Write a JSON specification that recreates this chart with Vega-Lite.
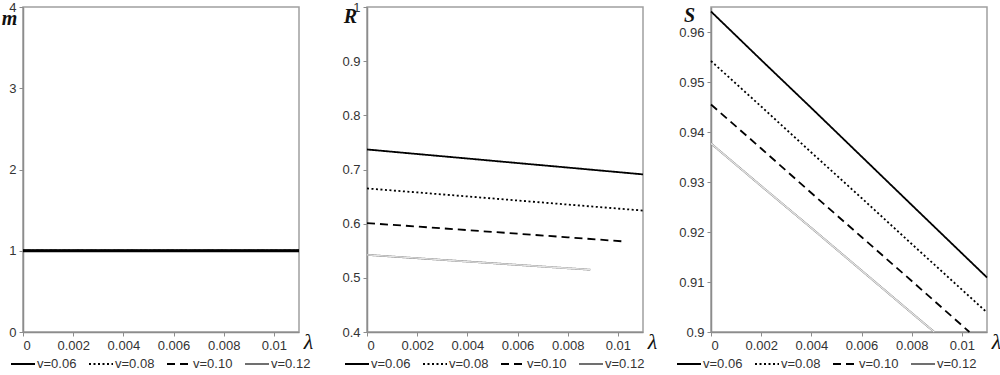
{
  "$schema": "https://vega.github.io/schema/vega-lite/v6.json",
  "padding": 0,
  "background": "white",
  "config": {
    "view": {"stroke": "#a0a0a0", "strokeWidth": 1.5},
    "axis": {
      "grid": false,
      "domainColor": "#8c8c8c",
      "domainWidth": 1.5,
      "tickColor": "#8c8c8c",
      "tickSize": 4,
      "labelFont": "Liberation Sans",
      "labelFontSize": 13,
      "labelColor": "#333",
      "labelPadding": 3
    },
    "legend": {
      "orient": "none",
      "direction": "horizontal",
      "symbolType": "stroke",
      "symbolSize": 576,
      "labelFont": "Liberation Sans",
      "labelFontSize": 13,
      "labelColor": "#333",
      "labelOffset": 1,
      "columnPadding": 8,
      "title": null
    }
  },
  "datasets": {
    "M": [
      {"lam": 0, "val": 1, "v": "v=0.06"}, {"lam": 0.011, "val": 1, "v": "v=0.06"},
      {"lam": 0, "val": 1, "v": "v=0.08"}, {"lam": 0.011, "val": 1, "v": "v=0.08"},
      {"lam": 0, "val": 1, "v": "v=0.10"}, {"lam": 0.011, "val": 1, "v": "v=0.10"},
      {"lam": 0, "val": 1, "v": "v=0.12"}, {"lam": 0.011, "val": 1, "v": "v=0.12"}
    ],
    "R": [
      {"lam": 0, "val": 0.737, "v": "v=0.06"}, {"lam": 0.002, "val": 0.7286, "v": "v=0.06"}, {"lam": 0.004, "val": 0.7203, "v": "v=0.06"}, {"lam": 0.006, "val": 0.7119, "v": "v=0.06"}, {"lam": 0.008, "val": 0.7036, "v": "v=0.06"}, {"lam": 0.011, "val": 0.691, "v": "v=0.06"},
      {"lam": 0, "val": 0.665, "v": "v=0.08"}, {"lam": 0.002, "val": 0.6577, "v": "v=0.08"}, {"lam": 0.004, "val": 0.6503, "v": "v=0.08"}, {"lam": 0.006, "val": 0.6428, "v": "v=0.08"}, {"lam": 0.008, "val": 0.6353, "v": "v=0.08"}, {"lam": 0.011, "val": 0.6242, "v": "v=0.08"},
      {"lam": 0, "val": 0.601, "v": "v=0.10"}, {"lam": 0.002, "val": 0.5947, "v": "v=0.10"}, {"lam": 0.004, "val": 0.5881, "v": "v=0.10"}, {"lam": 0.006, "val": 0.5815, "v": "v=0.10"}, {"lam": 0.008, "val": 0.5748, "v": "v=0.10"}, {"lam": 0.0103, "val": 0.567, "v": "v=0.10"},
      {"lam": 0, "val": 0.5424, "v": "v=0.12"}, {"lam": 0.002, "val": 0.5362, "v": "v=0.12"}, {"lam": 0.004, "val": 0.5301, "v": "v=0.12"}, {"lam": 0.006, "val": 0.5239, "v": "v=0.12"}, {"lam": 0.008, "val": 0.5177, "v": "v=0.12"}, {"lam": 0.0089, "val": 0.515, "v": "v=0.12"}
    ],
    "S": [
      {"lam": 0, "val": 0.9641, "v": "v=0.06"}, {"lam": 0.002, "val": 0.9544, "v": "v=0.06"}, {"lam": 0.004, "val": 0.9448, "v": "v=0.06"}, {"lam": 0.006, "val": 0.9351, "v": "v=0.06"}, {"lam": 0.008, "val": 0.9254, "v": "v=0.06"}, {"lam": 0.011, "val": 0.9109, "v": "v=0.06"},
      {"lam": 0, "val": 0.9542, "v": "v=0.08"}, {"lam": 0.002, "val": 0.9451, "v": "v=0.08"}, {"lam": 0.004, "val": 0.9359, "v": "v=0.08"}, {"lam": 0.006, "val": 0.9268, "v": "v=0.08"}, {"lam": 0.008, "val": 0.9176, "v": "v=0.08"}, {"lam": 0.011, "val": 0.9039, "v": "v=0.08"},
      {"lam": 0, "val": 0.9455, "v": "v=0.10"}, {"lam": 0.002, "val": 0.9367, "v": "v=0.10"}, {"lam": 0.004, "val": 0.9278, "v": "v=0.10"}, {"lam": 0.006, "val": 0.919, "v": "v=0.10"}, {"lam": 0.008, "val": 0.9102, "v": "v=0.10"}, {"lam": 0.0103, "val": 0.9, "v": "v=0.10"},
      {"lam": 0, "val": 0.9377, "v": "v=0.12"}, {"lam": 0.002, "val": 0.9292, "v": "v=0.12"}, {"lam": 0.004, "val": 0.9208, "v": "v=0.12"}, {"lam": 0.006, "val": 0.9123, "v": "v=0.12"}, {"lam": 0.008, "val": 0.9038, "v": "v=0.12"}, {"lam": 0.0089, "val": 0.9, "v": "v=0.12"}
    ]
  },
  "spacing": 68,
  "bounds": "flush",
  "resolve": {
    "scale": {"y": "independent", "color": "independent", "strokeDash": "independent", "strokeWidth": "independent"},
    "legend": {"color": "independent", "strokeDash": "independent", "strokeWidth": "independent"}
  },
  "hconcat": [
    {
      "width": 276,
      "height": 325,
      "layer": [
        {
          "data": {"name": "M"},
          "mark": {"type": "line"},
          "encoding": {
            "x": {"field": "lam", "type": "quantitative", "scale": {"domain": [0, 0.011], "nice": false, "zero": false},
              "axis": {"values": [0, 0.002, 0.004, 0.006, 0.008, 0.01], "format": "~g", "title": "λ", "titleAngle": 0, "titleX": 285, "titleY": 9, "titleAlign": "center", "titleBaseline": "middle", "titleFont": "Liberation Serif", "titleFontStyle": "italic", "titleFontWeight": "normal", "titleFontSize": 22, "titleColor": "#111"}},
            "y": {"field": "val", "type": "quantitative", "scale": {"domain": [0, 4], "nice": false, "zero": false},
              "axis": {"values": [0, 1, 2, 3, 4], "format": "~g", "title": "m", "titleAngle": 0, "titleX": -14, "titleY": 17, "titleAlign": "center", "titleBaseline": "alphabetic", "titleFont": "Liberation Serif", "titleFontStyle": "italic", "titleFontWeight": "bold", "titleFontSize": 20, "titleColor": "#111"}},
            "color": {"field": "v", "type": "nominal", "scale": {"domain": ["v=0.06", "v=0.08", "v=0.10", "v=0.12"], "range": ["#000000", "#000000", "#000000", "#707070"]},
              "legend": {"legendX": -13, "legendY": 344}},
            "strokeDash": {"field": "v", "type": "nominal", "scale": {"domain": ["v=0.06", "v=0.08", "v=0.10", "v=0.12"], "range": [[1, 0], [2, 2.5], [8, 5], [1, 0]]},
              "legend": {"legendX": -13, "legendY": 344}},
            "strokeWidth": {"field": "v", "type": "nominal", "scale": {"domain": ["v=0.06", "v=0.08", "v=0.10", "v=0.12"], "range": [1.8, 1.8, 1.8, 4]},
              "legend": {"legendX": -13, "legendY": 344}}
          }
        },
        {
          "data": {"name": "M"},
          "transform": [{"filter": "datum.v === 'v=0.06'"}],
          "mark": {"type": "line", "stroke": "#000000", "strokeWidth": 3},
          "encoding": {
            "x": {"field": "lam", "type": "quantitative"},
            "y": {"field": "val", "type": "quantitative"}
          }
        },
        {
          "mark": {"type": "text", "text": "η", "align": "right", "baseline": "middle", "font": "Liberation Serif", "fontStyle": "italic", "fontSize": 14, "color": "#111"},
          "encoding": {"x": {"datum": 0.0043, "type": "quantitative"}, "y": {"datum": 3.9, "type": "quantitative"}}
        },
        {
          "mark": {"type": "text", "text": "=0.2", "align": "left", "baseline": "middle", "font": "Liberation Serif", "fontSize": 14, "color": "#111"},
          "encoding": {"x": {"datum": 0.0043, "type": "quantitative"}, "y": {"datum": 3.9, "type": "quantitative"}}
        }
      ]
    },
    {
      "width": 276,
      "height": 325,
      "layer": [
        {
          "data": {"name": "R"},
          "mark": {"type": "line"},
          "encoding": {
            "x": {"field": "lam", "type": "quantitative", "scale": {"domain": [0, 0.011], "nice": false, "zero": false},
              "axis": {"values": [0, 0.002, 0.004, 0.006, 0.008, 0.01], "format": "~g", "title": "λ", "titleAngle": 0, "titleX": 285, "titleY": 9, "titleAlign": "center", "titleBaseline": "middle", "titleFont": "Liberation Serif", "titleFontStyle": "italic", "titleFontWeight": "normal", "titleFontSize": 22, "titleColor": "#111"}},
            "y": {"field": "val", "type": "quantitative", "scale": {"domain": [0.4, 1], "nice": false, "zero": false},
              "axis": {"values": [0.4, 0.5, 0.6, 0.7, 0.8, 0.9, 1], "format": "~g", "title": "R", "titleAngle": 0, "titleX": -17, "titleY": 15, "titleAlign": "center", "titleBaseline": "alphabetic", "titleFont": "Liberation Serif", "titleFontStyle": "italic", "titleFontWeight": "bold", "titleFontSize": 20, "titleColor": "#111"}},
            "color": {"field": "v", "type": "nominal", "scale": {"domain": ["v=0.06", "v=0.08", "v=0.10", "v=0.12"], "range": ["#000000", "#000000", "#000000", "#707070"]},
              "legend": {"legendX": -23, "legendY": 344}},
            "strokeDash": {"field": "v", "type": "nominal", "scale": {"domain": ["v=0.06", "v=0.08", "v=0.10", "v=0.12"], "range": [[1, 0], [2, 2.5], [8, 5], [1, 0]]},
              "legend": {"legendX": -23, "legendY": 344}},
            "strokeWidth": {"field": "v", "type": "nominal", "scale": {"domain": ["v=0.06", "v=0.08", "v=0.10", "v=0.12"], "range": [1.8, 1.8, 1.8, 4]},
              "legend": {"legendX": -23, "legendY": 344}}
          }
        },
        {
          "data": {"name": "R"},
          "transform": [{"filter": "datum.v === 'v=0.12'"}],
          "mark": {"type": "line", "stroke": "#e6e6e6", "strokeWidth": 1.3},
          "encoding": {
            "x": {"field": "lam", "type": "quantitative"},
            "y": {"field": "val", "type": "quantitative"}
          }
        },
        {
          "mark": {"type": "text", "text": "η", "align": "right", "baseline": "middle", "font": "Liberation Serif", "fontStyle": "italic", "fontSize": 14, "color": "#111"},
          "encoding": {"x": {"datum": 0.0048, "type": "quantitative"}, "y": {"datum": 0.985, "type": "quantitative"}}
        },
        {
          "mark": {"type": "text", "text": "=0.2", "align": "left", "baseline": "middle", "font": "Liberation Serif", "fontSize": 14, "color": "#111"},
          "encoding": {"x": {"datum": 0.0048, "type": "quantitative"}, "y": {"datum": 0.985, "type": "quantitative"}}
        }
      ]
    },
    {
      "width": 276,
      "height": 325,
      "layer": [
        {
          "data": {"name": "S"},
          "mark": {"type": "line"},
          "encoding": {
            "x": {"field": "lam", "type": "quantitative", "scale": {"domain": [0, 0.011], "nice": false, "zero": false},
              "axis": {"values": [0, 0.002, 0.004, 0.006, 0.008, 0.01], "format": "~g", "title": "λ", "titleAngle": 0, "titleX": 285, "titleY": 9, "titleAlign": "center", "titleBaseline": "middle", "titleFont": "Liberation Serif", "titleFontStyle": "italic", "titleFontWeight": "normal", "titleFontSize": 22, "titleColor": "#111"}},
            "y": {"field": "val", "type": "quantitative", "scale": {"domain": [0.9, 0.965], "nice": false, "zero": false},
              "axis": {"values": [0.9, 0.91, 0.92, 0.93, 0.94, 0.95, 0.96], "format": "~g", "title": "S", "titleAngle": 0, "titleX": -22, "titleY": 14, "titleAlign": "center", "titleBaseline": "alphabetic", "titleFont": "Liberation Serif", "titleFontStyle": "italic", "titleFontWeight": "bold", "titleFontSize": 20, "titleColor": "#111"}},
            "color": {"field": "v", "type": "nominal", "scale": {"domain": ["v=0.06", "v=0.08", "v=0.10", "v=0.12"], "range": ["#000000", "#000000", "#000000", "#707070"]},
              "legend": {"legendX": -35, "legendY": 344}},
            "strokeDash": {"field": "v", "type": "nominal", "scale": {"domain": ["v=0.06", "v=0.08", "v=0.10", "v=0.12"], "range": [[1, 0], [2, 2.5], [8, 5], [1, 0]]},
              "legend": {"legendX": -35, "legendY": 344}},
            "strokeWidth": {"field": "v", "type": "nominal", "scale": {"domain": ["v=0.06", "v=0.08", "v=0.10", "v=0.12"], "range": [1.8, 1.8, 1.8, 4]},
              "legend": {"legendX": -35, "legendY": 344}}
          }
        },
        {
          "data": {"name": "S"},
          "transform": [{"filter": "datum.v === 'v=0.12'"}],
          "mark": {"type": "line", "stroke": "#e6e6e6", "strokeWidth": 1.3},
          "encoding": {
            "x": {"field": "lam", "type": "quantitative"},
            "y": {"field": "val", "type": "quantitative"}
          }
        },
        {
          "mark": {"type": "text", "text": "η", "align": "right", "baseline": "middle", "font": "Liberation Serif", "fontStyle": "italic", "fontSize": 14, "color": "#111"},
          "encoding": {"x": {"datum": 0.0051, "type": "quantitative"}, "y": {"datum": 0.9634, "type": "quantitative"}}
        },
        {
          "mark": {"type": "text", "text": "=0.2", "align": "left", "baseline": "middle", "font": "Liberation Serif", "fontSize": 14, "color": "#111"},
          "encoding": {"x": {"datum": 0.0051, "type": "quantitative"}, "y": {"datum": 0.9634, "type": "quantitative"}}
        }
      ]
    }
  ]
}
